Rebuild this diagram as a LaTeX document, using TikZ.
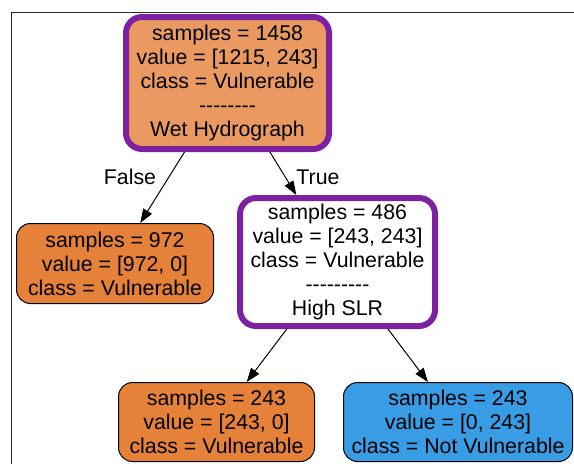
\documentclass[tikz,border=0pt]{standalone}
\usepackage{fontspec}
\setmainfont{Liberation Sans}
\usepackage{tikz}
\usetikzlibrary{arrows.meta}
\definecolor{splitpurple}{RGB}{125,33,162}
\definecolor{rootorange}{RGB}{234,154,97}
\definecolor{leaforange}{RGB}{229,129,57}
\definecolor{leafblue}{RGB}{57,157,229}
\definecolor{framegray}{RGB}{40,40,40}
\newcommand\sepdash{\mbox{-}}
\tikzset{
    treenode/.style={
        rectangle, align=center,
        inner sep=0pt, text=black,
        font=\fontsize{21.3}{24}\selectfont
    },
    split/.style={
        treenode, draw=splitpurple, line width=6pt,
        rounded corners=16pt
    },
    leaf/.style={
        treenode, draw=black, line width=1pt,
        rounded corners=14pt, minimum height=79pt
    },
    connect/.style={-{Triangle[length=14pt,width=10pt]}, line width=1pt},
    edgelabel/.style={font=\fontsize{21.3}{24}\selectfont}
}
\begin{document}
\begin{tikzpicture}[x=1pt,y=-1pt]
    \useasboundingbox (0,0) rectangle (574,464);
    \draw[framegray, line width=1pt] (11,464) -- (11,12) -- (574,12);

    \node[split, fill=rootorange, minimum width=203pt, minimum height=132pt] (root) at (227.5,83)
        {samples = 1458\\value = [1215, 243]\\class = Vulnerable\\
         \sepdash\sepdash\sepdash\sepdash\sepdash\sepdash\sepdash\sepdash\\Wet Hydrograph};
    \node[leaf, fill=leaforange, minimum width=197pt, minimum height=80pt] (wetleft) at (115,263.5)
        {samples = 972\\value = [972, 0]\\class = Vulnerable};
    \node[split, fill=white, minimum width=195pt, minimum height=128pt] (slr) at (337.5,262)
        {samples = 486\\value = [243, 243]\\class = Vulnerable\\
         \sepdash\sepdash\sepdash\sepdash\sepdash\sepdash\sepdash\sepdash\sepdash\\High SLR};
    \node[leaf, fill=leaforange, minimum width=196pt] (slrleft) at (216.5,422)
        {samples = 243\\value = [243, 0]\\class = Vulnerable};
    \node[leaf, fill=leafblue, minimum width=229pt] (slrright) at (458,422)
        {samples = 243\\value = [0, 243]\\class = Not Vulnerable};

    \draw[connect] (root) -- (wetleft);
    \draw[connect] (root) -- (slr);
    \draw[connect] (slr) -- (slrleft);
    \draw[connect] (slr) -- (slrright);

    \node[edgelabel] (falselbl) at (130,177) {False};
    \node[edgelabel] (truelbl) at (318,177) {True};
\end{tikzpicture}
\end{document}
